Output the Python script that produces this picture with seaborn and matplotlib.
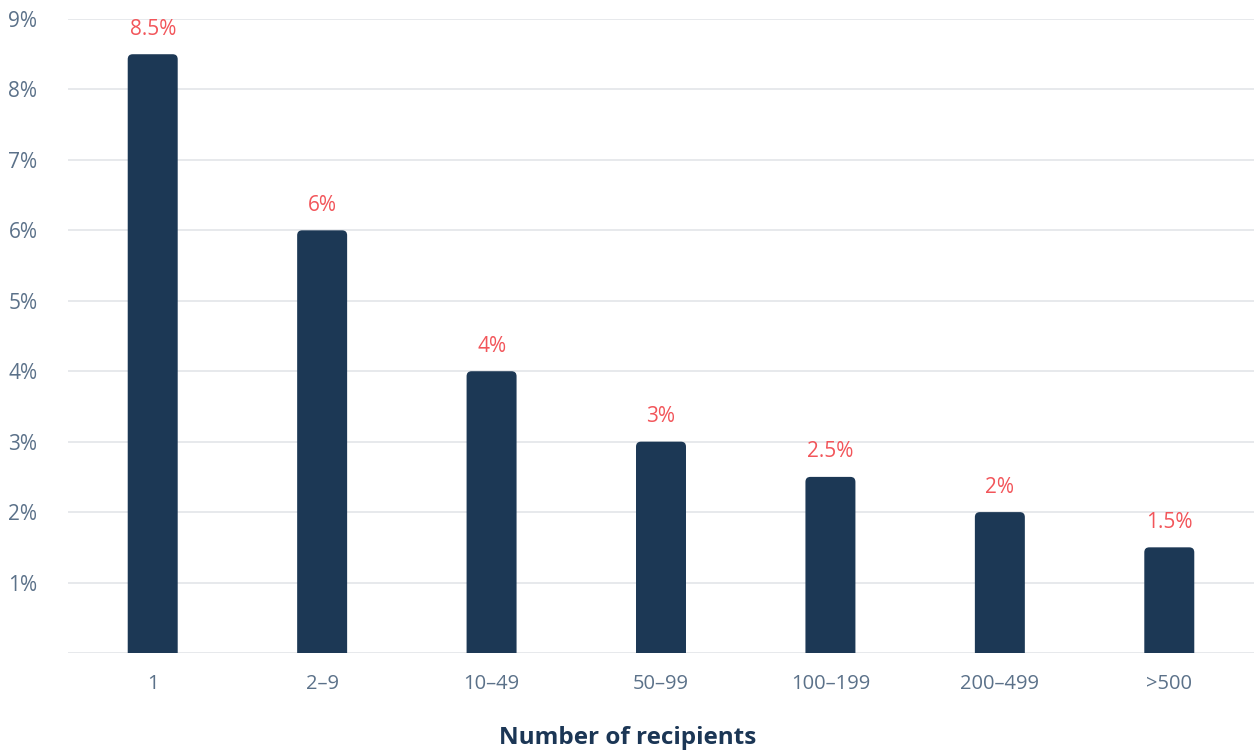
import matplotlib
matplotlib.use("Agg")
import matplotlib.pyplot as plt
from matplotlib.patches import FancyBboxPatch
import seaborn as sns
import pandas as pd

# Share of recipients by audience size
categories = ["1", "2–9", "10–49", "50–99", "100–199", "200–499", ">500"]
values = [8.5, 6, 4, 3, 2.5, 2, 1.5]
value_labels = ["8.5%", "6%", "4%", "3%", "2.5%", "2%", "1.5%"]
y_ticks = [1, 2, 3, 4, 5, 6, 7, 8, 9]
y_tick_labels = ["1%", "2%", "3%", "4%", "5%", "6%", "7%", "8%", "9%"]

BAR = "#1c3855"
RED = "#f2555a"
TICK = "#5b7189"
GRID = "#e5e7ea"

sns.set_theme(style="white")
plt.rcParams["font.family"] = ["Open Sans", "DejaVu Sans"]

df = pd.DataFrame({"bucket": categories, "share": values})

fig = plt.figure(figsize=(12.57, 7.52), dpi=100)
ax = fig.add_axes([68 / 1257, 1 - 653 / 752, (1254 - 68) / 1257, (653 - 19) / 752])

sns.barplot(data=df, x="bucket", y="share", color=BAR, width=0.295,
            saturation=1, ax=ax, zorder=3)

ax.set_ylim(0, 9)
ax.set_xlim(-0.5, 6.5)

# Replace flat bars with rounded-top bars (bottom corners hidden below zero)
px_per_x = (1254 - 68) / 7
px_per_y = (653 - 19) / 9
radius_px = 5
for p in list(ax.patches):
    x0, w, h = p.get_x(), p.get_width(), p.get_height()
    p.remove()
    r = radius_px / px_per_x
    box = FancyBboxPatch((x0, -1), w, h + 1,
                         boxstyle=f"round,pad=0,rounding_size={r}",
                         mutation_aspect=px_per_x / px_per_y,
                         facecolor=BAR, edgecolor="none", zorder=3)
    box.set_clip_on(True)
    ax.add_patch(box)

for i, (v, lab) in enumerate(zip(values, value_labels)):
    ax.annotate(lab, (i, v), xytext=(0, 18), textcoords="offset points",
                ha="center", va="center", color=RED, fontsize=15,
                fontweight="medium", clip_on=False)

ax.set_yticks([0] + y_ticks)
ax.set_yticklabels([""] + y_tick_labels)
ax.yaxis.grid(True, color=GRID, linewidth=1.3, zorder=0)
ax.set_axisbelow(True)
for s in ax.spines.values():
    s.set_visible(False)

ax.tick_params(axis="y", length=0, pad=22, labelsize=15, labelcolor=TICK)
ax.tick_params(axis="x", length=0, pad=15, labelsize=14.5, labelcolor=TICK)
for t in ax.get_yticklabels():
    t.set_horizontalalignment("right")

ax.set_ylabel("")
ax.set_xlabel("Number of recipients", fontsize=17.5, fontweight="bold",
              color="#1b3655")
# Title of the x axis sits centred on the whole figure
ax.xaxis.set_label_coords((628 - 68) / 1186, -(738 - 653) / 634)
ax.xaxis.label.set_verticalalignment("center")

fig.savefig("out.png", dpi=100)
